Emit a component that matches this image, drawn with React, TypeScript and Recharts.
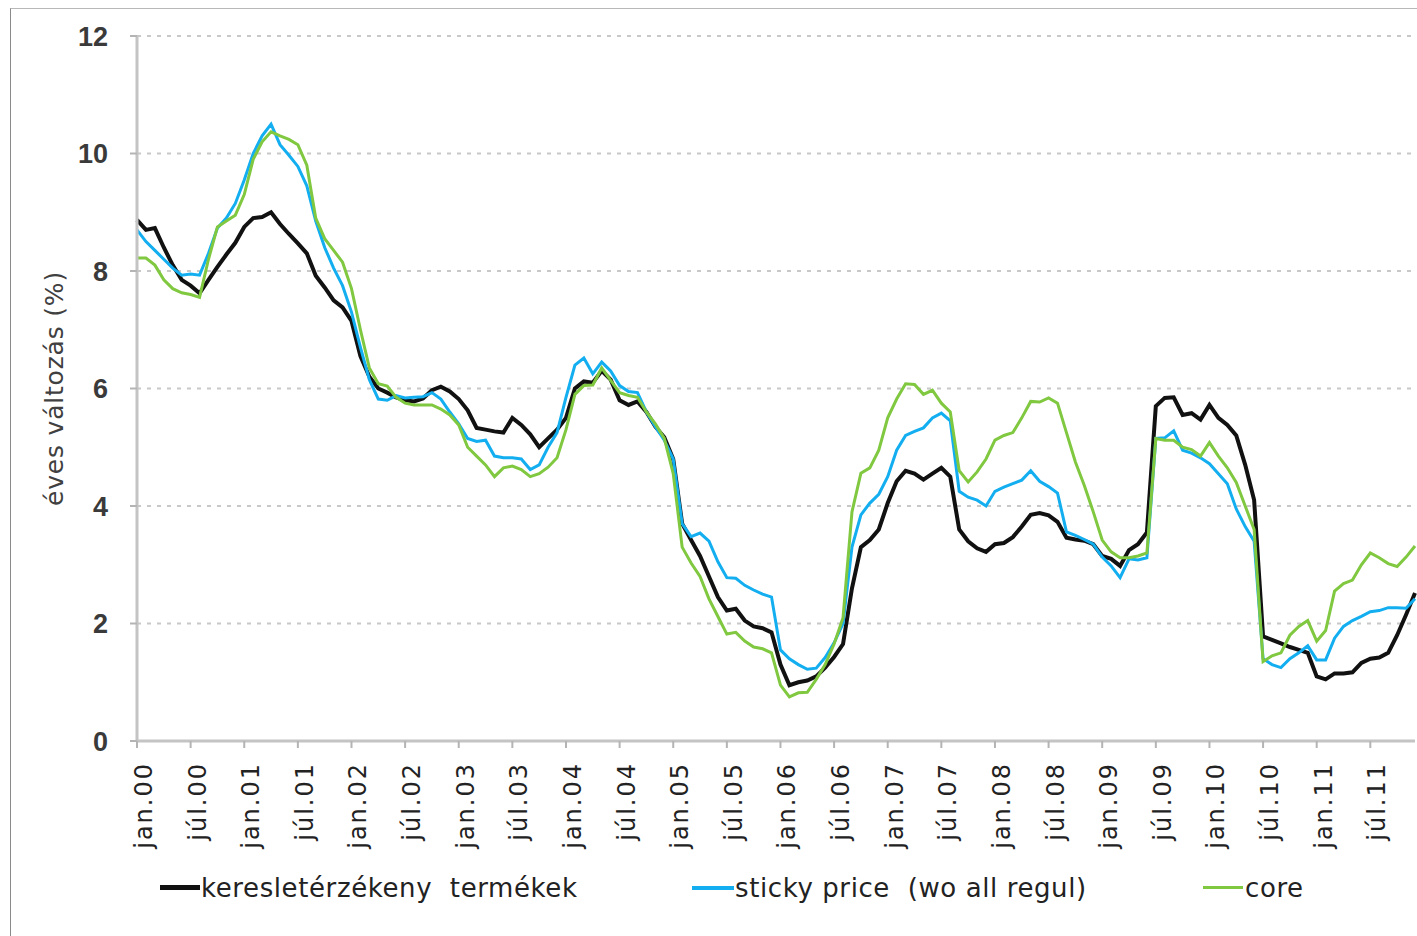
import { LineChart, Line, XAxis, YAxis, CartesianGrid } from 'recharts';

// monthly data, jan.2000 - dec.2011
const years = ['00', '01', '02', '03', '04', '05', '06', '07', '08', '09', '10', '11'];
const months = ['jan.', 'febr.', 'márc.', 'ápr.', 'máj.', 'jún.', 'júl.', 'aug.', 'szept.', 'okt.', 'nov.', 'dec.'];
const categories = years.flatMap((y) => months.map((m) => m + y));

// keresletérzékeny termékek
const demandSensitive = [
  8.87, 8.7, 8.73, 8.4, 8.1, 7.85, 7.75, 7.62, 7.85, 8.07, 8.28, 8.48,
  8.75, 8.9, 8.92, 9.0, 8.8, 8.63, 8.47, 8.3, 7.92, 7.72, 7.5, 7.38,
  7.15, 6.55, 6.2, 6.0, 5.93, 5.85, 5.8, 5.78, 5.83, 5.97, 6.03, 5.95,
  5.82, 5.63, 5.33, 5.3, 5.27, 5.25, 5.5, 5.38, 5.22, 5.0, 5.15, 5.3,
  5.5, 6.0, 6.12, 6.1, 6.3, 6.15, 5.8, 5.72, 5.78, 5.6, 5.35, 5.17,
  4.8, 3.7, 3.42, 3.15, 2.8, 2.45, 2.22, 2.25, 2.05, 1.95, 1.92, 1.85,
  1.3, 0.95, 1.0, 1.03, 1.1, 1.25, 1.43, 1.65, 2.6, 3.3, 3.42, 3.6,
  4.05, 4.42, 4.6, 4.55, 4.45, 4.55, 4.65, 4.5, 3.6, 3.4, 3.28, 3.22,
  3.35, 3.37, 3.47, 3.65, 3.85, 3.88, 3.84, 3.73, 3.46, 3.43, 3.41, 3.35,
  3.15, 3.1, 2.98, 3.25, 3.35, 3.55, 5.7, 5.84, 5.85, 5.55, 5.58, 5.47,
  5.72, 5.5, 5.38, 5.2, 4.7, 4.1, 1.78, 1.72, 1.66, 1.6, 1.55, 1.5,
  1.1, 1.05, 1.15, 1.15, 1.17, 1.33, 1.4, 1.42, 1.5, 1.8, 2.15, 2.52,
];

// sticky price (wo all regul)
const stickyPrice = [
  8.7, 8.5, 8.35, 8.2, 8.05, 7.93, 7.95, 7.93, 8.3, 8.73, 8.9, 9.15,
  9.55, 10.0, 10.3, 10.5, 10.15, 9.97, 9.78, 9.45, 8.85, 8.4, 8.05, 7.75,
  7.3, 6.7, 6.15, 5.82, 5.8, 5.88, 5.84, 5.85, 5.86, 5.93, 5.82, 5.6,
  5.4, 5.15, 5.1, 5.12, 4.85, 4.82, 4.82, 4.8, 4.62, 4.7, 5.0, 5.25,
  5.85, 6.4, 6.52, 6.25, 6.45, 6.3, 6.05, 5.95, 5.93, 5.6, 5.35, 5.12,
  4.8, 3.7, 3.48, 3.54, 3.4, 3.05, 2.78, 2.77, 2.65, 2.57, 2.5, 2.45,
  1.55, 1.4, 1.3, 1.22, 1.24, 1.42, 1.67, 2.0, 3.3, 3.85, 4.05, 4.2,
  4.5, 4.95, 5.2, 5.27, 5.33, 5.5, 5.58, 5.45, 4.25, 4.15, 4.1, 4.0,
  4.25, 4.32, 4.38, 4.44, 4.6, 4.42, 4.33, 4.22, 3.56, 3.5, 3.43, 3.35,
  3.13, 2.98, 2.78, 3.1, 3.08, 3.12, 5.15, 5.16, 5.28, 4.95, 4.9, 4.82,
  4.72, 4.55, 4.38, 3.95, 3.65, 3.4, 1.4, 1.3, 1.25, 1.4, 1.5, 1.62,
  1.38, 1.38, 1.75, 1.95, 2.05, 2.12, 2.2, 2.22, 2.27, 2.27, 2.26, 2.42,
];

// core
const core = [
  8.22, 8.22, 8.1, 7.85, 7.7, 7.63, 7.6, 7.55, 8.2, 8.75, 8.85, 8.95,
  9.3, 9.9, 10.2, 10.37, 10.3, 10.24, 10.15, 9.8, 8.9, 8.55, 8.35, 8.15,
  7.7, 7.0, 6.35, 6.08, 6.04, 5.85, 5.75, 5.72, 5.72, 5.72, 5.65, 5.55,
  5.38, 5.0, 4.85, 4.7, 4.5, 4.65, 4.68, 4.62, 4.5, 4.55, 4.66, 4.82,
  5.3, 5.9, 6.05, 6.06, 6.35, 6.14, 5.93, 5.88, 5.85, 5.6, 5.4, 5.15,
  4.55, 3.3, 3.03, 2.8, 2.42, 2.12, 1.82, 1.85, 1.7, 1.6, 1.57, 1.5,
  0.95, 0.75, 0.82, 0.83, 1.05, 1.3, 1.65, 2.1, 3.9, 4.56, 4.65, 4.95,
  5.5, 5.82, 6.08, 6.07, 5.9, 5.97, 5.75, 5.6, 4.6, 4.41, 4.58, 4.8,
  5.12, 5.2, 5.25, 5.5, 5.78, 5.77, 5.84, 5.75, 5.25, 4.75, 4.35, 3.9,
  3.42, 3.22, 3.12, 3.12, 3.15, 3.2, 5.15, 5.12, 5.12, 5.0, 4.96, 4.85,
  5.08, 4.85, 4.65, 4.4, 4.0, 3.6, 1.35, 1.45, 1.5, 1.8, 1.95, 2.05,
  1.7, 1.88, 2.55, 2.68, 2.74, 3.0, 3.2, 3.12, 3.02, 2.97, 3.13, 3.32,
];

const yTicks = [0, 2, 4, 6, 8, 10, 12];

const data = categories.map((month, i) => ({
  month,
  demand: demandSensitive[i],
  sticky: stickyPrice[i],
  core: core[i],
}));

function MonthTick({ x, y, payload }: any) {
  return (
    <g transform={`translate(${x},${y})`}>
      <text
        x={-14}
        y={15}
        transform="rotate(-90)"
        textAnchor="end"
        fontFamily="DejaVu Sans"
        fontSize={24}
        letterSpacing={2}
        fill="#222"
      >
        {payload.value}
      </text>
    </g>
  );
}

const legendText = {
  position: 'absolute' as const,
  top: 864,
  lineHeight: '30px',
  fontFamily: 'DejaVu Sans',
  fontSize: 26,
  letterSpacing: 0.6,
  color: '#222',
  whiteSpace: 'pre' as const,
};

export default function App() {
  return (
    <div
      style={{
        position: 'absolute',
        left: 10,
        top: 8,
        width: 1407,
        height: 928,
        boxSizing: 'border-box',
        borderTop: '1px solid #b8b8b8',
        borderLeft: '1px solid #8a8a8a',
        background: '#fff',
      }}
    >
      <LineChart width={1406} height={927} data={data} margin={{ top: 27, right: 2, bottom: 0, left: 0 }}>
        <CartesianGrid vertical={false} stroke="#c8c8c8" strokeDasharray="4 6" strokeWidth={2} />
        <XAxis
          dataKey="month"
          interval={5}
          height={195}
          tickSize={7}
          tickMargin={0}
          tick={<MonthTick />}
          axisLine={{ stroke: '#c4c4c4', strokeWidth: 3 }}
          tickLine={{ stroke: '#b4b4b4', strokeWidth: 2 }}
        />
        <YAxis
          type="number"
          domain={[0, 12]}
          ticks={yTicks}
          interval={0}
          width={126}
          tickSize={7}
          tickMargin={22}
          tick={{ fill: '#3a3a3a', fontSize: 27, fontFamily: 'Liberation Sans', fontWeight: 'bold' }}
          axisLine={{ stroke: '#c4c4c4', strokeWidth: 3 }}
          tickLine={{ stroke: '#b4b4b4', strokeWidth: 2 }}
          label={{
            value: 'éves változás (%)',
            angle: -90,
            position: 'center',
            dx: -20,
            fill: '#404040',
            fontSize: 25,
            letterSpacing: 0.8,
            fontFamily: 'DejaVu Sans',
          }}
        />
        <Line type="linear" dataKey="demand" stroke="#111" strokeWidth={4} dot={false} isAnimationActive={false} />
        <Line type="linear" dataKey="sticky" stroke="#12aef0" strokeWidth={3} dot={false} isAnimationActive={false} />
        <Line type="linear" dataKey="core" stroke="#80c840" strokeWidth={3} dot={false} isAnimationActive={false} />
      </LineChart>

      <div style={{ position: 'absolute', left: 149, top: 876, width: 40, height: 5, background: '#111' }} />
      <div style={{ ...legendText, left: 190 }}>keresletérzékeny  termékek</div>
      <div style={{ position: 'absolute', left: 681, top: 877, width: 42, height: 4, background: '#12aef0' }} />
      <div style={{ ...legendText, left: 724 }}>sticky price  (wo all regul)</div>
      <div style={{ position: 'absolute', left: 1192, top: 877, width: 40, height: 3, background: '#80c840' }} />
      <div style={{ ...legendText, left: 1234 }}>core</div>
    </div>
  );
}
